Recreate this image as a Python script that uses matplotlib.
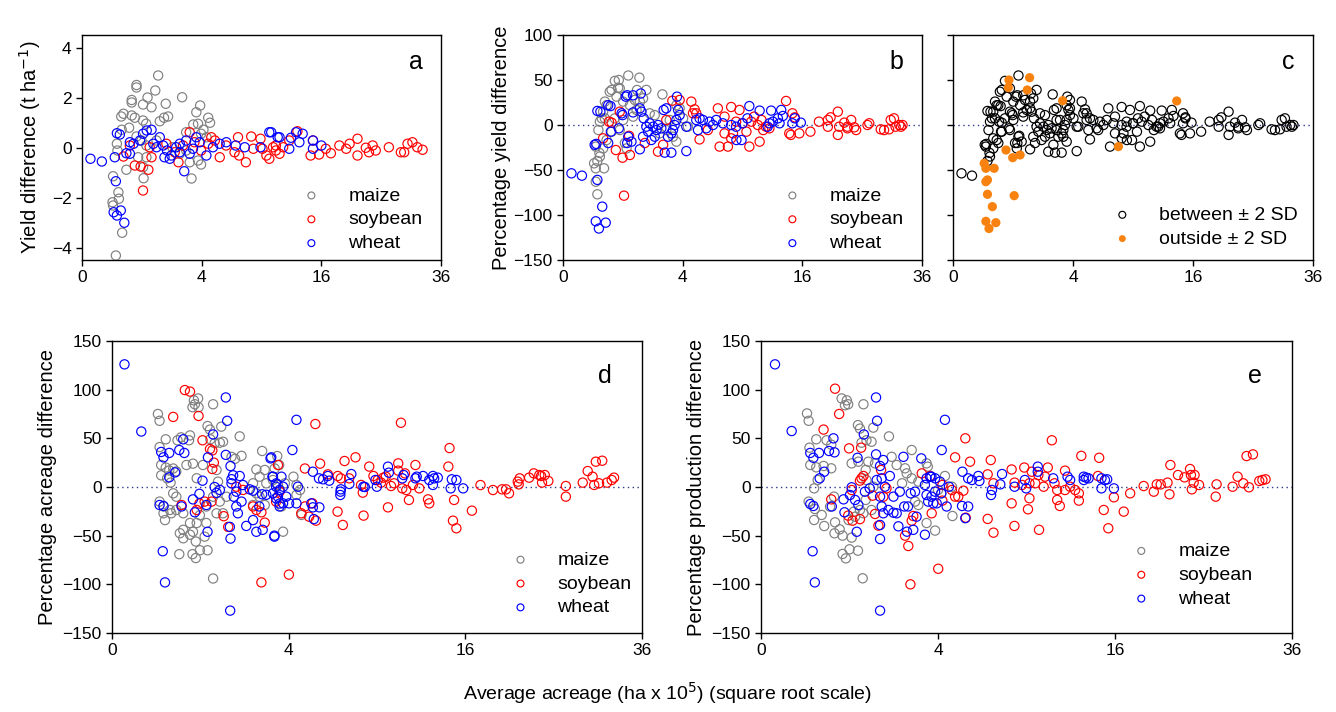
import matplotlib
matplotlib.use("Agg")
import matplotlib.pyplot as plt
import numpy as np

plt.rcParams['font.family'] = ['Liberation Sans', 'DejaVu Sans']

# --- data: (average acreage in ha x 10^5, difference) ---

# a: yield difference (t/ha)
a_maize = [(1.62, 2.88), (0.83, 2.5), (0.83, 2.4), (0.69, 1.9), (0.69, 1.8), (1.5, 2.28), (1.2, 2.0), (1.04, 1.72),
           (1.35, 1.61), (1.96, 1.75), (2.8, 2.01), (3.9, 1.68), (3.65, 1.41), (0.48, 1.35), (0.43, 1.24), (0.69, 1.28),
           (0.78, 1.19), (1.04, 1.08), (1.15, 0.95), (1.69, 1.05), (1.88, 1.19), (2.07, 1.24), (4.45, 1.19), (4.58, 0.99),
           (3.46, 0.92), (3.76, 0.95), (0.62, 0.79), (0.44, 0.71), (3.03, 0.61), (4.12, 0.71), (4.33, 0.41), (0.34, 0.15),
           (0.35, -0.12), (0.55, -0.89), (1.06, -1.23), (3.35, -1.24), (3.76, -0.52), (3.96, -0.68), (0.27, -1.15),
           (0.37, -1.79), (0.38, -2.05), (0.26, -2.19), (0.27, -2.32), (0.45, -3.41), (0.32, -4.32), (1.04, -0.79),
           (0.83, 0.44), (0.99, 0.28), (1.16, 0.08), (1.55, 0.28), (2.28, 0.01), (2.67, -0.25), (3.24, -0.59),
           (0.88, -0.39), (3.03, -0.12), (3.96, 0.55), (1.16, -0.39)]
a_soy = [(1.04, -1.72), (0.78, -0.72), (0.96, -0.76), (1.23, -0.89), (0.48, -0.36), (0.64, 0.08), (1.28, 0.01),
         (1.35, -0.39), (2.6, -0.59), (3.24, 0.61), (4.67, 0.41), (4.93, 0.28), (5.3, -0.39), (5.8, 0.08), (6.8, 0.41),
         (6.9, -0.32), (8.0, 0.44), (8.2, -0.05), (8.9, 0.35), (9.1, -0.05), (9.5, -0.32), (9.8, -0.45), (10.2, 0.01),
         (10.5, 0.08), (7.5, -0.59), (6.5, -0.19), (12.96, 0.65), (14.9, 0.28), (14.6, -0.32), (15.7, -0.28),
         (17.3, -0.23), (18.5, 0.08), (20.0, 0.15), (21.2, 0.35), (21.2, -0.32), (22.5, -0.01), (23.6, 0.08),
         (24.1, -0.12), (26.3, 0.01), (28.4, -0.19), (29.6, 0.15), (30.5, 0.21), (31.4, 0.01), (32.4, -0.09),
         (29.0, -0.19), (23.0, -0.19), (19.5, -0.05), (16.6, -0.05), (10.5, -0.12), (11.3, 0.01), (12.0, 0.28),
         (10.9, -0.25), (1.99, 0.15), (2.4, -0.19), (2.85, 0.08), (3.53, 0.21), (3.96, -0.12), (4.45, 0.15)]
a_wheat = [(0.02, -0.45), (0.11, -0.56), (0.30, -0.39), (0.34, 0.57), (0.40, 0.52), (0.32, -1.35), (0.28, -2.59),
           (0.34, -2.72), (0.42, -2.52), (0.50, -3.01), (0.55, -0.23), (0.64, 0.21), (1.04, 0.55), (1.17, 0.68),
           (1.35, 0.71), (2.92, -0.95), (9.8, 0.61), (10.7, 0.41), (6.6, 0.08), (7.4, 0.01), (8.9, 0.01), (10.9, 0.41),
           (12.2, 0.39), (12.8, 0.61), (13.6, 0.55), (13.2, 0.21), (14.9, 0.28), (14.9, -0.05), (16.0, 0.08),
           (12.0, -0.05), (10.0, 0.61), (1.69, 0.41), (1.84, 0.08), (2.02, -0.12), (2.23, -0.32), (2.48, 0.01),
           (2.67, 0.15), (3.03, 0.28), (3.44, -0.05), (3.65, 0.41), (3.87, 0.21), (4.32, -0.32), (4.79, 0.01),
           (1.55, 0.01), (1.90, -0.39), (2.15, -0.45), (2.67, -0.19), (3.24, -0.25), (0.64, -0.25), (0.74, 0.15),
           (0.94, 0.28), (1.42, 0.15), (5.29, 0.15), (5.82, 0.21)]

# b/c: percentage yield difference; *_out are the points outside +-2 SD (orange in c)
b_maize = [(0.45, -26), (0.30, -24), (0.38, -35), (0.33, -40), (0.37, -31), (0.35, -5.6), (0.38, 3.7), (0.42, 7.4),
           (0.45, 14.8), (0.49, 26), (0.53, 22), (0.49, 7.4), (0.61, 37), (0.66, 39), (0.75, 49), (1.19, 55),
           (0.80, 31.5), (0.90, 40.7), (1.01, 26), (1.25, 22), (1.44, 27.8), (1.51, 16.7), (1.65, 26), (1.94, 39),
           (1.79, 29.6), (1.37, 9.3), (1.01, 5.6), (0.75, 7.4), (0.53, -16.7), (0.66, -7.4), (0.90, -5.6), (1.07, -20),
           (1.13, -26), (2.76, 34), (3.59, 22), (3.80, 18.5), (3.18, 5.6), (3.38, -13), (3.59, -18.5), (4.03, 7.4),
           (4.36, -1.9), (2.98, -5.6), (2.61, -9.3), (2.10, 13), (2.35, 11)]
b_maize_out = [(0.87, 50), (0.85, 41.5), (1.63, 52.6), (1.53, 38.9), (0.27, -42.6), (0.30, -48.1), (0.47, -48.1),
               (0.30, -63), (0.33, -77)]
b_soy = [(0.59, 3.7), (0.66, 2.6), (0.45, -14.8), (0.90, 14.8), (1.22, -12), (1.87, -20), (2.52, -29.6), (2.80, -22),
         (2.98, 5.6), (3.80, 27.8), (4.60, 26), (4.84, 17.4), (4.72, 13), (4.96, 13), (5.21, -16), (5.86, -5.6),
         (6.70, 18.5), (6.85, -24), (7.9, 20), (8.07, -9.3), (7.29, 9.3), (8.37, 3.7), (8.7, 16.7), (7.29, -9.3),
         (7.9, -14.8), (9.7, -24), (10.8, -18.5), (10.2, 9.3), (10.6, 0), (11.2, -5.6), (11.0, 5.6), (11.5, -1.9),
         (9.4, -7.4), (9.0, 1.9), (9.9, 3.7), (11.9, -3.7), (14.7, 13), (15.0, 8.5), (14.3, -9.3), (14.5, -11),
         (15.6, -9.3), (17.1, -7.4), (18.3, 3.7), (19.6, 5.6), (20.0, 8.5), (21.1, 14.8), (21.3, -1.9), (22.1, 2.6),
         (22.6, -3.7), (23.2, 5.6), (23.7, -2.6), (24.0, -5.6), (25.9, 0), (26.2, 1.9), (28.2, -4.8), (28.8, -5.6),
         (29.7, -4.8), (30.0, 5.6), (30.6, 7.4), (30.9, -1.9), (31.6, 0), (31.9, -1.9), (32.2, 0), (19.6, -1.9),
         (21.1, -11), (22.6, -1.9)]
b_soy_out = [(3.34, 27), (0.78, -27.8), (0.99, -36.3), (1.25, -33.3), (1.04, -78.5), (7.6, -24), (13.9, 26.7)]
b_wheat = [(0.02, -53.7), (0.10, -56.3), (0.28, -22), (0.31, -21), (0.33, 15.6), (0.39, 14.8), (0.57, 22), (0.63, 21),
           (0.64, -7.4), (0.57, -20), (0.87, -3.7), (0.96, 13), (0.99, 11), (1.1, 31.5), (1.15, 33), (1.37, 33),
           (1.69, 35), (1.19, -13), (1.15, -20), (1.31, -18.5), (1.37, 14), (1.65, -27), (1.65, 18.5), (1.72, 14.8),
           (1.82, 7.4), (1.94, -1.9), (2.02, -7.4), (1.79, -13), (2.10, 1.9), (2.27, -1.9), (2.44, -5.6), (2.52, 0),
           (2.70, -3.7), (2.35, -13), (2.18, -16.7), (2.83, 16.7), (2.98, 18.5), (3.08, -13), (3.28, -9.3),
           (3.38, -5.6), (3.48, 0), (3.59, 5.6), (3.63, 31.5), (3.70, 16.7), (3.80, 11), (4.25, -29), (2.89, -30.7),
           (3.28, -30.7), (4.96, 5.6), (5.21, 7.4), (5.47, 5.6), (6.0, 3.7), (6.28, 0), (6.56, 5.6), (7.14, 1.9),
           (7.9, 0), (8.4, -16.7), (5.09, -5.6), (5.73, -3.7), (4.25, -1.9), (9.7, 21), (10.8, 16), (12.1, 16),
           (13.3, 16.7), (13.5, 10), (12.9, 7.4), (13.1, 1.9), (14.7, 1.9), (15.0, 7.4), (15.8, 2.6), (8.9, -16.7),
           (8.37, -1.9), (9.0, 1.9), (9.5, 7.4), (11.7, -1.9), (11.9, 1.9), (12.3, 3.7)]
b_wheat_out = [(0.33, -61), (0.43, -90.7), (0.30, -107), (0.51, -108.5), (0.36, -115)]

# d: percentage acreage difference
d_maize = [(0.27, 75), (0.29, 68), (0.37, 49), (0.29, 41), (0.31, 22.6), (0.37, 20), (0.42, 17), (0.48, 19),
           (0.53, 16), (0.31, 12), (0.39, 9), (0.44, 4.5), (0.83, 82), (0.88, 85), (0.95, 91), (0.86, 89), (0.96, 82),
           (1.31, 85), (0.78, 53), (0.76, 48), (0.55, 48), (0.61, 51), (1.17, 62.6), (1.23, 59), (1.53, 62),
           (1.35, 45), (1.49, 45.5), (1.58, 46.5), (1.24, 49), (2.09, 52), (2.15, 32), (1.94, 29), (1.83, 31),
           (2.89, 37), (2.67, 18), (2.99, 17.5), (0.71, 22.6), (0.84, 24), (1.06, 22.6), (0.92, 9), (1.40, 17.5),
           (1.44, 5.5), (1.31, -10), (1.49, -15), (1.68, -10), (1.14, -20), (0.99, -29), (0.78, -37), (0.65, -27),
           (0.53, -23.6), (0.43, -23.6), (0.34, -20), (0.36, -34), (0.84, -46), (0.65, -44), (0.78, -49), (0.90, -56),
           (1.10, -51), (0.92, -37), (1.14, -37), (1.40, -27), (1.58, -27), (2.55, -18.5), (2.67, -6.5), (2.79, -10),
           (2.99, -18.5), (3.05, 3.8), (2.79, 10.6), (2.55, 3.8), (0.58, -69), (0.83, -69), (0.90, -73), (0.99, -65),
           (1.17, -65), (1.31, -94), (0.59, -47.5), (0.65, -52.7), (0.29, -15), (0.45, -27), (0.34, -27),
           (0.48, -6.5), (0.53, -10), (3.50, 31.8), (3.58, 22.6), (3.39, 19), (3.32, 7.2), (3.53, 2.1), (3.83, 3.8),
           (4.22, 10.6), (4.36, 2.1), (4.53, -3.1), (4.60, -28.7), (3.75, -45.9), (3.68, -20), (4.36, -8.2)]
d_soy = [(0.68, 99.6), (0.78, 98), (0.48, 72), (0.96, 73), (1.05, 48), (1.23, 39), (1.29, 37.6), (1.33, 25),
         (1.29, 18.5), (0.62, -18.5), (0.98, -17), (1.10, -15), (1.27, -15), (0.92, -23.6), (1.60, -30), (1.73, -41),
         (2.86, -98), (1.98, 0.3), (2.20, -3), (2.55, -20), (2.67, -23.6), (2.86, -26), (2.99, -36.6), (3.45, -15),
         (3.60, -4.8), (3.53, 22.6), (5.30, 64.7), (4.01, -90), (10.7, 66), (14.6, 40), (14.5, 21), (15.0, -13.3),
         (14.9, -34.6), (15.2, -42.4), (4.77, 19), (5.55, 24), (6.93, 26.7), (7.60, 30.5), (8.48, 21), (10.5, 24.3),
         (11.8, 22.6), (11.0, 14), (4.77, -20), (5.15, -16.8), (4.59, -27), (5.33, -34.6), (4.98, -30.5),
         (6.52, -25.3), (6.83, -39), (8.11, -29.4), (9.76, -20.9), (11.3, -13.3), (12.8, -12.7), (12.9, -16.8),
         (5.97, 13), (6.53, 11.3), (6.71, 8.9), (7.21, 8.9), (7.95, 2.1), (8.06, -5.8), (8.76, 11.3), (9.05, 7.2),
         (9.28, 4.5), (9.44, 9.6), (9.61, 10.6), (9.98, 1.0), (10.2, 3.8), (10.8, -1.4), (11.1, -3.1), (11.6, 2.1),
         (12.1, -1.4), (10.5, 16.8), (17.4, 2), (16.6, -24.3), (18.6, -3.1), (19.5, -2.4), (19.9, -2.4),
         (20.2, -6.5), (21.1, 5.5), (21.3, 8.9), (21.2, 2.7), (22.3, 9.6), (22.8, 14), (23.4, 12.3), (23.6, 11.3),
         (24.0, 12.3), (23.7, 4.5), (24.4, 6.2), (26.4, 1.0), (26.4, -9.9), (28.4, 4.5), (29.0, 16.4), (29.6, 10.6),
         (29.8, 2.1), (30.0, 26), (30.8, 27), (30.4, 3.8), (31.4, 4.5), (32.0, 7.2), (32.3, 9.6)]
d_wheat = [(0.02, 126), (0.11, 57), (0.31, 36), (0.34, 30.5), (0.42, 35), (0.58, 38), (0.67, 35), (0.65, 49),
           (0.51, 15), (0.42, 10), (0.29, -18.5), (0.34, -19.5), (0.33, -66), (0.36, -98), (0.62, -20), (0.84, -12.7),
           (0.88, -26), (0.98, -7), (1.05, 6.5), (1.14, -18.5), (1.17, -46), (1.18, 30.5), (1.31, 54), (1.66, 92),
           (1.70, 68), (1.66, 33), (1.35, 0), (1.40, -6), (1.49, -3), (1.80, 21.5), (1.83, 8), (1.88, 12), (1.78, -41),
           (1.80, -53), (1.83, 3.8), (1.90, -10), (1.98, -4.8), (2.09, 11.3), (2.20, 2), (1.98, -20), (2.03, -27),
           (2.31, -40), (2.15, -15), (2.55, -34), (2.67, -46), (2.91, -44), (2.78, -20), (2.89, -7.5), (3.05, -8),
           (3.22, 29.4), (3.38, -51), (3.30, 10.6), (3.45, 0.3), (3.45, -11.6), (3.60, -17), (2.55, -3.8),
           (2.43, -2.4), (1.79, -127), (4.36, 69), (4.17, 38), (3.25, 30.5), (3.38, -50), (3.32, 10.6), (3.46, 3.8),
           (3.60, -3), (3.68, 10.6), (3.75, 0.3), (3.75, -16.8), (3.53, -9.9), (3.32, -6.5), (3.89, -9.9),
           (4.02, -16.8), (4.43, 0.3), (3.60, -20), (4.36, -16.8), (5.09, -16.8), (5.17, -20.9), (5.51, -20.9),
           (5.22, -33), (5.17, 15.7), (5.49, 8.9), (5.71, 7.9), (5.97, 11.3), (6.05, 6.5), (6.69, -4.8), (6.68, -8.2),
           (6.71, -2.4), (7.22, 3.1), (7.34, 13.3), (8.10, 0.3), (8.19, 0), (8.89, 7.2), (8.99, 0.3), (9.76, 20.9),
           (9.82, 14.7), (10.8, 8.9), (10.9, 12.3), (11.8, 8.9), (11.9, 10.6), (12.4, 11.3), (12.9, 7.2), (13.2, 11.3),
           (13.3, 8.9), (13.6, 9.6), (13.2, 2.1), (14.8, 7.9), (15.2, 7.2), (14.7, -1.4), (15.8, -1.4)]

# e: percentage production difference
e_maize = [(0.27, 75.6), (0.29, 68), (0.39, 49), (0.55, 48), (0.63, 43.5), (0.30, 40.4), (0.31, 22.6), (0.39, 20.2),
           (0.50, 21.6), (0.63, 19.2), (0.41, 7.2), (0.36, -1.4), (0.68, -9.9), (0.29, -15), (0.37, -22.6),
           (0.36, -33.9), (0.47, -28.7), (0.61, -20.2), (0.51, -40.1), (0.70, -36.3), (0.69, -47.6), (0.79, -43.5),
           (0.85, -50), (0.98, -34), (1.13, -30.5), (1.05, -52), (0.85, -68.8), (0.92, -73.3), (1.0, -64),
           (1.20, -65.4), (1.32, -93.8), (1.10, -25.3), (1.34, -27), (0.83, 91), (0.94, 89), (0.90, 84), (0.97, 85),
           (1.34, 85), (1.20, 63.6), (1.25, 60), (1.29, 45.5), (1.42, 48), (1.56, 46.5), (1.61, 61), (2.09, 52),
           (1.05, 24.3), (1.21, 26), (1.47, 26), (1.66, 24.3), (1.40, 17.5), (1.42, 7.2), (1.61, 0.3), (1.40, -13.3),
           (1.56, -23.6), (1.25, -23.6), (2.18, 31), (2.35, 22.6), (2.65, 19.2), (2.90, 38), (2.71, 14), (2.54, 3.8),
           (2.90, 8.9), (3.16, 5.5), (3.50, 24.3), (3.55, 20.9), (3.50, -37), (3.16, -18.5), (3.03, -15), (4.32, 11.3),
           (4.65, 0.3), (4.68, -29.8), (3.87, -44.8), (4.15, -6.5), (4.0, -3.1)]
e_soy = [(0.70, 101), (0.78, 75), (0.50, 59), (0.99, 39.7), (1.28, 40.4), (1.29, 8.9), (1.34, 11.3), (1.25, 6.5),
         (1.05, -3.1), (1.59, -8.9), (0.63, -12.7), (0.97, -29.4), (1.07, -34.6), (1.25, -33), (1.66, -27.7),
         (1.76, -39.7), (2.65, -50), (2.77, -60.6), (2.85, -100), (2.90, -34.6), (2.96, -29.8), (3.72, -27),
         (4.01, -84), (4.20, 2.1), (4.20, -14), (1.84, 17.5), (1.91, -10), (2.01, -1.4), (3.30, 14), (3.65, 11.3),
         (5.33, 50), (4.81, 30.5), (5.58, 26), (6.74, 27.7), (6.56, 13), (6.90, 3.8), (8.02, 18), (8.21, 4.5),
         (8.85, 20), (9.36, 15.7), (9.82, 12.3), (10.5, 20), (10.8, 48), (11.8, 16.8), (13.1, 32), (14.6, 30),
         (14.5, 11.3), (4.81, -9.9), (4.97, -9.9), (5.23, -3.8), (4.65, -3.1), (5.35, -31.5), (6.56, -32.8),
         (6.90, -46.9), (8.20, -40), (8.02, -16.8), (9.10, -22.9), (9.20, -11.6), (9.87, -44), (11.2, -13.3),
         (11.4, -19.5), (12.2, 0.3), (12.9, -6.5), (12.9, -14), (15.0, -23.6), (15.4, -42.4), (15.9, -10.6),
         (16.8, -25.3), (8.7, 2.1), (9.2, 3.8), (9.6, 3.8), (10.2, 0.3), (10.3, 10.6), (11.0, 3.8), (11.2, -3.1),
         (11.8, -3.1), (12.6, -3.1), (17.4, -6.5), (18.7, 1), (19.7, -4.8), (20.0, 2.7), (20.4, 2.7), (21.1, 4.5),
         (21.3, -7.5), (21.4, 22.6), (22.2, 12.3), (22.9, 9.9), (23.5, 18.5), (23.6, 12.3), (24.0, 12.3),
         (23.9, 4.5), (23.7, -2.4), (24.5, 2.1), (26.5, 2.7), (26.4, -9.9), (28.4, 0.3), (29.0, 10.6), (29.7, 3.8),
         (30.1, 31.8), (30.9, 33.5), (30.4, -0.3), (31.7, 6.2), (32.1, 7.2), (32.5, 7.9)]
e_wheat = [(0.025, 126), (0.12, 57.5), (0.31, 35), (0.35, 30), (0.43, 35), (0.59, 37), (0.69, 35.6), (0.67, 50),
           (0.51, 15.7), (0.44, 8.9), (0.31, -17.5), (0.35, -19.5), (0.64, -20), (0.34, -66), (0.37, -98),
           (0.89, -26), (1.17, -46), (0.87, -12.7), (1.01, -8.2), (1.05, -0.3), (1.13, -13.3), (1.21, -18.5),
           (1.38, -4.8), (1.35, 54), (1.19, 30), (1.69, 92), (1.72, 68), (1.69, 33.5), (1.51, -1.4), (1.71, 7.2),
           (1.81, 21.6), (1.86, 8.9), (1.91, 27.7), (1.96, 0.3), (2.12, 11.3), (1.81, -9.9), (1.86, -20), (1.91, -27),
           (2.07, -23.6), (2.24, -26.4), (2.35, -27), (1.81, -39), (1.81, -53.4), (1.81, -127), (2.24, -9.9),
           (2.46, -4.8), (2.59, 31), (2.62, -20), (2.76, -20), (2.86, -6.5), (3.03, -4.8), (3.09, -30.5),
           (3.28, 29.4), (3.43, -49), (3.50, 8.9), (2.96, -44), (2.72, -45.9), (2.41, -40.4), (3.65, 10.6),
           (3.43, 2.1), (3.50, -8.2), (3.57, -15), (3.71, -9.9), (3.79, -16.8), (3.87, -4.8), (3.71, 10.6),
           (4.17, 38), (4.32, 69), (3.94, -16.8), (4.15, -6.5), (4.40, -20), (4.51, 0.3), (3.87, 8.9), (4.09, 5.5),
           (5.18, 15.7), (5.16, -19.5), (5.48, -20), (5.33, -32), (5.48, 8.9), (5.68, 7.2), (6.03, 11.3), (6.09, 6.2),
           (6.81, -3.1), (6.76, -8.2), (7.42, 13.3), (7.31, 2.7), (8.21, 0.3), (8.89, 7.2), (8.98, -1.4), (9.78, 20.9),
           (9.78, 15.7), (10.9, 8.9), (12.0, 10.6), (12.2, 7.2), (13.3, 10.6), (13.3, 7.2), (13.5, 9.6), (13.7, 8.9),
           (14.8, 8.9), (15.1, 7.2), (15.3, 7.9), (14.8, -1.4), (15.9, -1.4)]

crops = ['maize', 'soybean', 'wheat']
crop_colors = ['#808080', '#ff0000', '#0000ff']
orange = '#f7820f'
zero_color = '#2e3b8c'

W, H = 1336, 712


def box(l, t, r, b):
    return [l / W, 1 - b / H, (r - l) / W, (b - t) / H]


def sqrt_axis(ax):
    ax.set_xscale('function', functions=(lambda v: np.sqrt(np.clip(v, 0, None)), np.square))
    ax.set_xlim(0, 36)
    ax.set_xticks([0, 4, 16, 36])
    ax.set_xticklabels(['0', '4', '16', '36'])
    ax.tick_params(direction='out', length=4, width=1, labelsize=12.5, top=False, right=False)
    for sp in ax.spines.values():
        sp.set_linewidth(1)


def draw(ax, pts, color, label=None, filled=False):
    arr = np.array(pts)
    if filled:
        ax.scatter(arr[:, 0], arr[:, 1], s=44, color=color, edgecolors='none', label=label, zorder=4)
    else:
        ax.scatter(arr[:, 0], arr[:, 1], s=44, facecolors='none', edgecolors=color,
                   linewidths=0.85, label=label, zorder=3)


def legend(ax, anchor):
    ax.legend(loc='lower right', bbox_to_anchor=anchor, frameon=False, fontsize=14,
              markerscale=0.75, handletextpad=0.9, labelspacing=0.32, borderaxespad=0)


fig = plt.figure(figsize=(W / 100, H / 100), dpi=100)

ax_a = fig.add_axes(box(82, 35, 441, 260))
ax_b = fig.add_axes(box(563, 35, 922, 260))
ax_c = fig.add_axes(box(953, 35, 1313, 260))
ax_d = fig.add_axes(box(112, 341, 642, 633))
ax_e = fig.add_axes(box(761, 341, 1292, 633))

# a
for pts, col, lab in zip([a_maize, a_soy, a_wheat], crop_colors, crops):
    draw(ax_a, pts, col, lab)
sqrt_axis(ax_a)
ax_a.set_ylim(-4.5, 4.5)
ax_a.set_yticks([-4, -2, 0, 2, 4])
ax_a.set_ylabel('Yield difference (t ha$^{-1}$)', fontsize=14.5, labelpad=6)
legend(ax_a, (0.97, 0.0))

# b
for reg, out, col, lab in zip([b_maize, b_soy, b_wheat], [b_maize_out, b_soy_out, b_wheat_out], crop_colors, crops):
    draw(ax_b, reg + out, col, lab)
sqrt_axis(ax_b)
ax_b.set_ylim(-150, 100)
ax_b.set_yticks([-150, -100, -50, 0, 50, 100])
ax_b.set_ylabel('Percentage yield difference', fontsize=14.5, labelpad=2)
legend(ax_b, (0.97, 0.0))

# c
draw(ax_c, b_maize + b_soy + b_wheat, 'black', 'between \u00b1 2 SD')
draw(ax_c, b_maize_out + b_soy_out + b_wheat_out, orange, 'outside \u00b1 2 SD', filled=True)
sqrt_axis(ax_c)
ax_c.set_ylim(-150, 100)
ax_c.set_yticks([-150, -100, -50, 0, 50, 100])
ax_c.set_yticklabels([])
legend(ax_c, (0.98, 0.02))

# d
for pts, col, lab in zip([d_maize, d_soy, d_wheat], crop_colors, crops):
    draw(ax_d, pts, col, lab)
sqrt_axis(ax_d)
ax_d.set_ylim(-150, 150)
ax_d.set_yticks(np.arange(-150, 151, 50))
ax_d.set_ylabel('Percentage acreage difference', fontsize=14.5, labelpad=4)
legend(ax_d, (0.995, 0.03))

# e
for pts, col, lab in zip([e_maize, e_soy, e_wheat], crop_colors, crops):
    draw(ax_e, pts, col, lab)
sqrt_axis(ax_e)
ax_e.set_ylim(-150, 150)
ax_e.set_yticks(np.arange(-150, 151, 50))
ax_e.set_ylabel('Percentage production difference', fontsize=14.5, labelpad=4)
legend(ax_e, (0.94, 0.06))

for ax in [ax_b, ax_c, ax_d, ax_e]:
    ax.axhline(0, color=zero_color, lw=1, ls=(0, (1, 2.5)), zorder=1)

for ax, letter in zip([ax_a, ax_b, ax_c, ax_d, ax_e], 'abcde'):
    ax.text(0.93, 0.88, letter, transform=ax.transAxes, fontsize=18, ha='center', va='center')

fig.text(0.5, 0.027, 'Average acreage (ha x 10$^5$) (square root scale)', ha='center', va='center', fontsize=14)

fig.savefig('out.png', dpi=100)
